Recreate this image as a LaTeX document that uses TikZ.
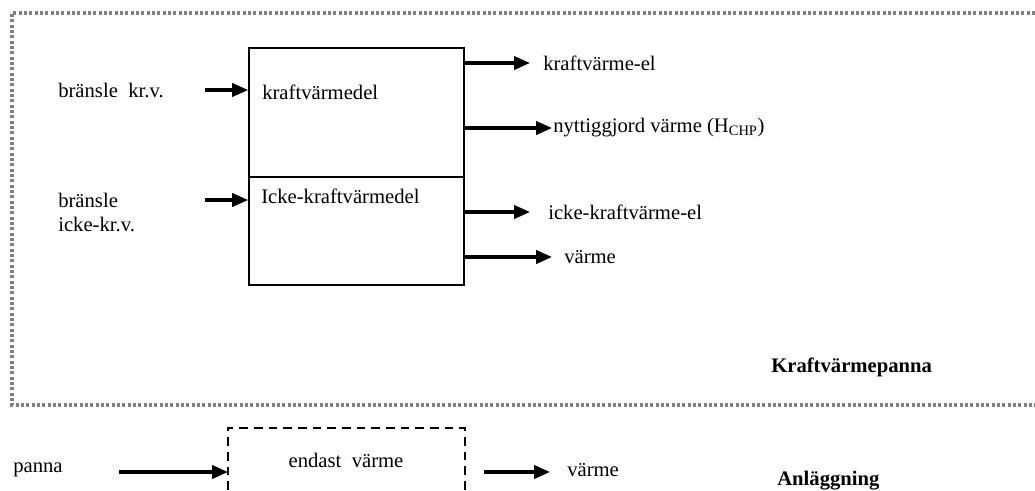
\documentclass[tikz,border=0pt]{standalone}
\usepackage{fontspec}
\setmainfont{Liberation Serif}
\usetikzlibrary{arrows.meta}
\begin{document}
\begin{tikzpicture}[x=0.75pt,y=-0.75pt,
  lbl/.style={anchor=west,inner sep=0pt,font=\fontsize{15.5}{18}\selectfont},
  blbl/.style={anchor=west,inner sep=0pt,font=\fontsize{15.5}{18}\selectfont\bfseries},
  part/.style={draw,line width=1.3pt,inner sep=0pt,minimum width=161.25pt},
  arr/.style={line width=2.3pt,-{Triangle[length=12pt,width=10pt]}},
  border/.style={draw=black!50,line width=2.4pt,dash pattern=on 2.2pt off 1.8pt},
  dbox/.style={line width=2pt,dash pattern=on 6.5pt off 4.5pt}]
\useasboundingbox (0,0) rectangle (1035,490);
% outer dotted frame
\draw[border] (1035,13) -- (12,13) -- (12,405) -- (1035,405);
% box
\node[part,minimum height=96.75pt] (upper) at (356.5,112.5) {};
\node[part,minimum height=81pt] (lower) at (356.5,231) {};
\node[lbl] (tkv) at (262,92) {kraftvärmedel};
\node[lbl] (tikv) at (261,196) {Icke-kraftvärmedel};
% inputs
\node[lbl] (in1) at (58,90) {bränsle\ \ kr.v.};
\node[lbl,align=left] (in2) at (58,212) {bränsle\\icke-kr.v.};
\coordinate (a1) at (205,90);
\coordinate (a2) at (205,200);
\draw[arr] (a1) -- (upper.west |- a1);
\draw[arr] (a2) -- (lower.west |- a2);
% outputs
\node[lbl] (o1) at (543,63) {kraftvärme-el};
\node[lbl] (o2) at (553,128) {nyttiggjord värme (H\textsubscript{CHP})};
\node[lbl] (o3) at (548,212) {icke-kraftvärme-el};
\node[lbl] (o4) at (564,257) {värme};
\coordinate (e1) at (530,63);
\coordinate (e2) at (552,128);
\coordinate (e3) at (530,212);
\coordinate (e4) at (552,257);
\draw[arr] (upper.east |- e1) -- (e1);
\draw[arr] (upper.east |- e2) -- (e2);
\draw[arr] (lower.east |- e3) -- (e3);
\draw[arr] (lower.east |- e4) -- (e4);
\node[blbl] (kvp) at (771,367) {Kraftvärmepanna};
% bottom plant
\node[lbl] (panna) at (13,470) {panna};
\draw[dbox] (228,490) -- (228,428) -- (465,428) -- (465,490);
\node[lbl,anchor=center] (endast) at (346,460) {endast\ \ värme};
\coordinate (p1) at (119,472);
\coordinate (p2) at (228,472);
\draw[arr] (p1) -- (p2);
\coordinate (q1) at (484,472);
\coordinate (q2) at (550,472);
\draw[arr] (q1) -- (q2);
\node[lbl] (v2) at (567,470) {värme};
\node[blbl] (anl) at (777,481) {Anläggning};
\end{tikzpicture}
\end{document}
